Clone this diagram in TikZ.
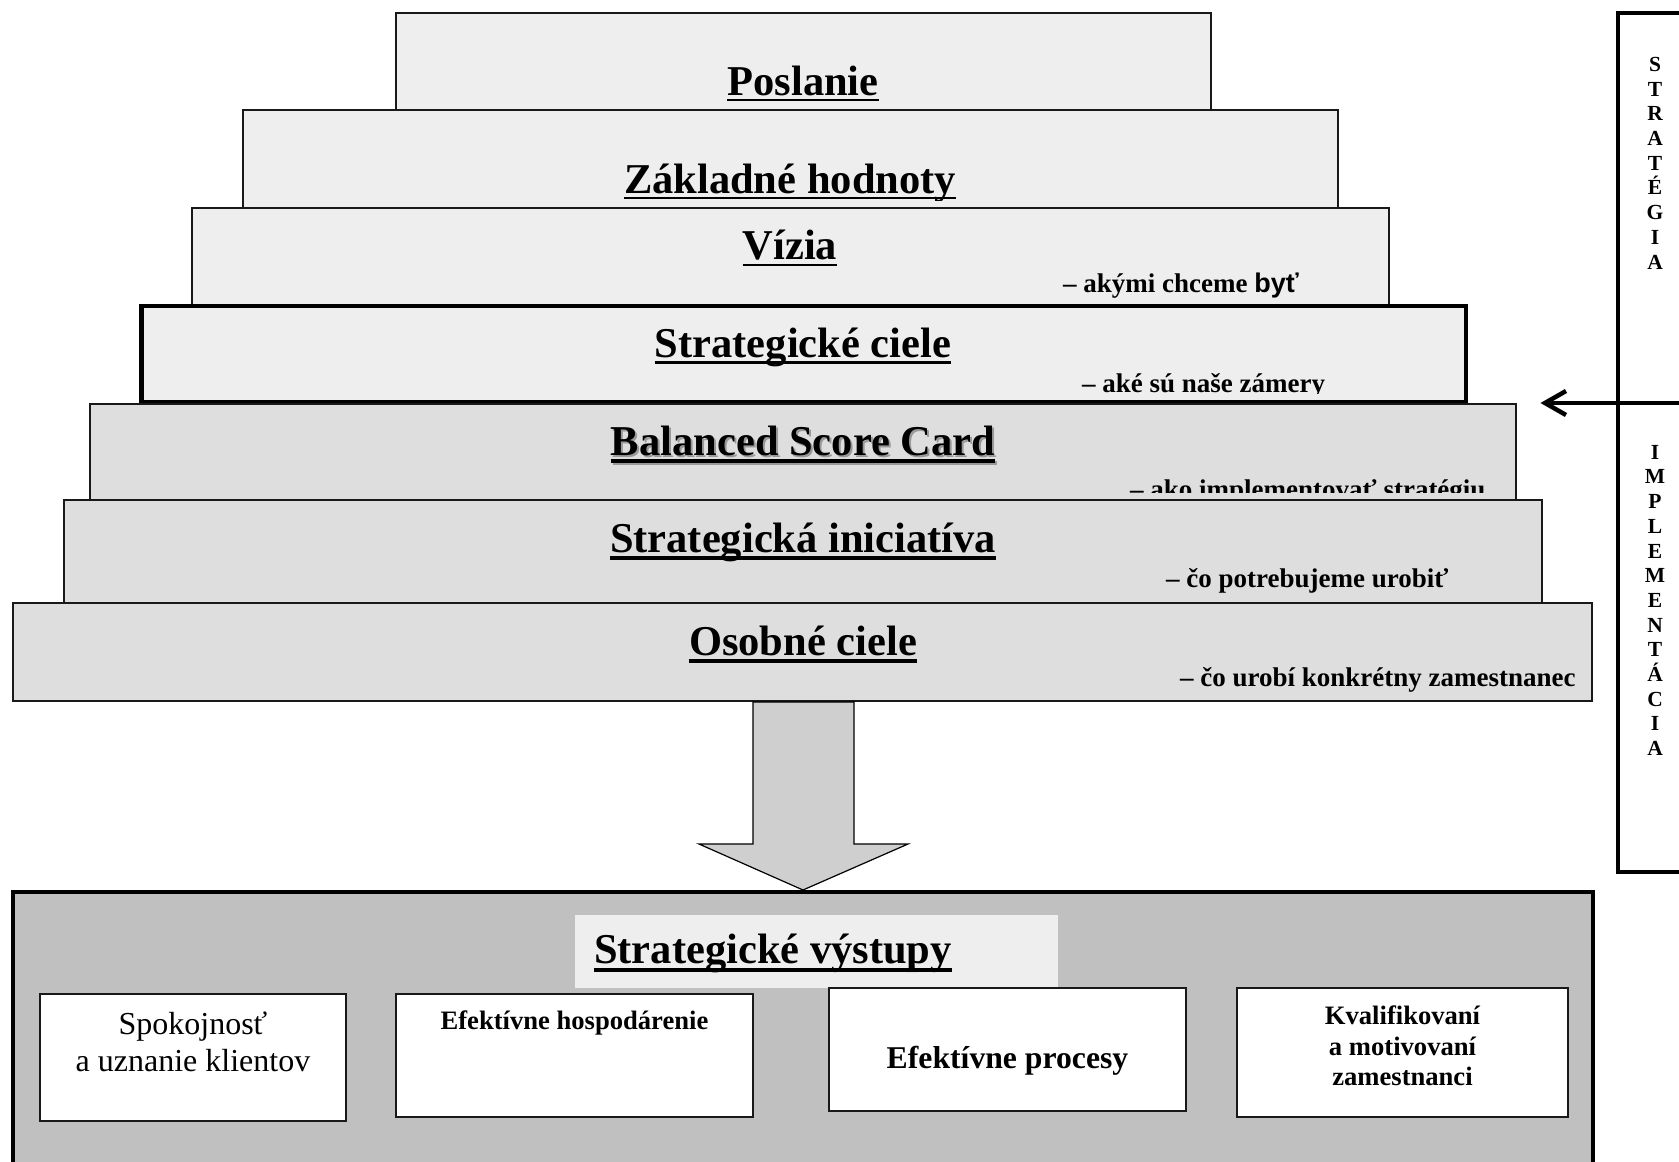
\documentclass[tikz,border=0pt]{standalone}
\usepackage{fontspec}
\setmainfont{Liberation Serif}
\newfontfamily\arialfont{Liberation Sans}

\definecolor{lightlevel}{HTML}{EEEEEE}
\definecolor{darklevel}{HTML}{DEDEDE}
\definecolor{panelgray}{HTML}{C0C0C0}
\definecolor{arrowgray}{HTML}{CFCFCF}

\tikzset{
  level/.style={draw=black!90, line width=1.5pt},
  heading/.style={inner sep=0pt, anchor=base, font=\fontsize{42.5}{48}\selectfont\bfseries},
  note/.style={inner sep=0pt, anchor=base west, font=\fontsize{27}{30}\selectfont\bfseries},
  ul/.style={line width=#1},
  ul/.default=2pt,
  goal/.style={draw=black!90, line width=1.5pt, fill=white},
  goaltext/.style={inner sep=0pt, align=center},
  sideword/.style={inner sep=0pt, anchor=north, align=center, font=\fontsize{21.5}{24.7}\selectfont\bfseries},
}

\begin{document}
\begin{tikzpicture}[x=1pt,y=-1pt]
\useasboundingbox (0,0) rectangle (1679,1162);
\fill[white] (0,0) rectangle (1679,1162);

\fill[lightlevel] (396,13) rectangle (1211,110);
\begin{scope}
  \clip (396,13) rectangle (1211,102);
  \node[heading] (poslanie) at (803,95) {Poslanie};
  \draw[ul] ([yshift=-5pt]poslanie.base west) -- ([yshift=-5pt]poslanie.base east);
\end{scope}
\draw[level] (396,13) rectangle (1211,110);

\fill[lightlevel] (243,110) rectangle (1338,208);
\begin{scope}
  \clip (243,110) rectangle (1338,200);
  \node[heading] (hodnoty) at (790,193) {Základné hodnoty};
  \draw[ul] ([yshift=-5pt]hodnoty.base west) -- ([yshift=-5pt]hodnoty.base east);
\end{scope}
\draw[level] (243,110) rectangle (1338,208);

\fill[lightlevel] (192,208) rectangle (1389,305);
\begin{scope}
  \clip (192,208) rectangle (1389,297);
  \node[heading] (vizia) at (790,259) {Vízia};
  \draw[ul] ([yshift=-5.5pt]vizia.base west) -- ([yshift=-5.5pt]vizia.base east);
  \node[note] (vizianote) at (1063,292) {– akými chceme {\arialfont byť}};
\end{scope}
\draw[level] (192,208) rectangle (1389,305);

\fill[lightlevel] (141.5,306) rectangle (1466,402);
\begin{scope}
  \clip (141.5,306) rectangle (1466,393);
  \node[heading] (ciele) at (803,357) {Strategické ciele};
  \draw[ul=2.5pt] ([yshift=-5.5pt]ciele.base west) -- ([yshift=-5.5pt]ciele.base east);
  \node[note] (cielenote) at (1082,392) {– aké sú naše zámery};
\end{scope}
\draw[line width=4.5pt] (141.5,306) rectangle (1466,402);

\fill[darklevel] (90,404) rectangle (1516,500);
\begin{scope}
  \clip (90,404) rectangle (1516,492);
  \node[heading, text=black!40] (bscshadow) at (805,457) {Balanced Score Card};
  \draw[ul=3.5pt, black!40] ([yshift=-6pt]bscshadow.base west) -- ([yshift=-6pt]bscshadow.base east);
  \node[heading] (bsc) at (803,455) {Balanced Score Card};
  \draw[ul=3.5pt] ([yshift=-6pt]bsc.base west) -- ([yshift=-6pt]bsc.base east);
  \node[note] (bscnote) at (1130,498) {– ako implementovať stratégiu};
\end{scope}
\draw[level] (90,404) rectangle (1516,500);

\fill[darklevel] (64,500) rectangle (1542,603);
\begin{scope}
  \clip (64,500) rectangle (1542,595);
  \node[heading] (iniciativa) at (803,552) {Strategická iniciatíva};
  \draw[ul=3.5pt] ([yshift=-6pt]iniciativa.base west) -- ([yshift=-6pt]iniciativa.base east);
  \node[note] (iniciativanote) at (1166,587) {– čo potrebujeme urobiť};
\end{scope}
\draw[level] (64,500) rectangle (1542,603);

\fill[darklevel] (13,603) rectangle (1592,701);
\begin{scope}
  \clip (13,603) rectangle (1592,693);
  \node[heading] (osobne) at (803,655) {Osobné ciele};
  \draw[ul=3.5pt] ([yshift=-6pt]osobne.base west) -- ([yshift=-6pt]osobne.base east);
  \node[note] (osobnenote) at (1180,686) {– čo urobí konkrétny zamestnanec};
\end{scope}
\draw[level] (13,603) rectangle (1592,701);

\draw[fill=arrowgray, line width=1.2pt] (753,702) -- (854,702) -- (854,844) -- (908,844)
  -- (803,890) -- (699,844) -- (753,844) -- cycle;

\draw[line width=4.5pt, fill=panelgray] (13,892) rectangle (1593,1180);
\fill[lightlevel] (575,915) rectangle (1058,988);
\node[heading] (vystupy) at (773,963) {Strategické výstupy};
\draw[ul=4pt] ([yshift=-7pt]vystupy.base west) -- ([yshift=-7pt]vystupy.base east);

\draw[goal] (40,994) rectangle (346,1121);
\node[goaltext, anchor=north, font=\fontsize{32}{37}\selectfont] (klienti) at (193,1012) {Spokojnosť\\a uznanie klientov};
\draw[goal] (396,994) rectangle (753,1117);
\node[goaltext, anchor=base, font=\fontsize{26.6}{30}\selectfont\bfseries] (hospodarenie) at (574.5,1029) {Efektívne hospodárenie};
\draw[goal] (829,988) rectangle (1186,1111);
\node[goaltext, anchor=base, font=\fontsize{31.7}{36}\selectfont\bfseries] (procesy) at (1007.5,1068) {Efektívne procesy};
\draw[goal] (1237,988) rectangle (1568,1117);
\node[goaltext, anchor=north, font=\fontsize{26.6}{30.5}\selectfont\bfseries] (zamestnanci) at (1402.5,1006) {Kvalifikovaní\\a motivovaní\\zamestnanci};

\draw[line width=4.5pt] (1690,13) -- (1618,13) -- (1618,872) -- (1690,872);
\coordinate (barstart) at (1690,403);
\coordinate (bartip) at (1545,403);
\draw[line width=4.5pt] (barstart) -- (bartip);
\draw[line width=4.5pt, line join=miter] ([shift={(21,-12)}]bartip) -- (bartip) -- ([shift={(21,12)}]bartip);
\node[sideword] (strategia) at (1655,57) {S\\T\\R\\A\\T\\É\\G\\I\\A};
\node[sideword] (implementacia) at (1655,445) {I\\M\\P\\L\\E\\M\\E\\N\\T\\Á\\C\\I\\A};
\end{tikzpicture}
\end{document}
